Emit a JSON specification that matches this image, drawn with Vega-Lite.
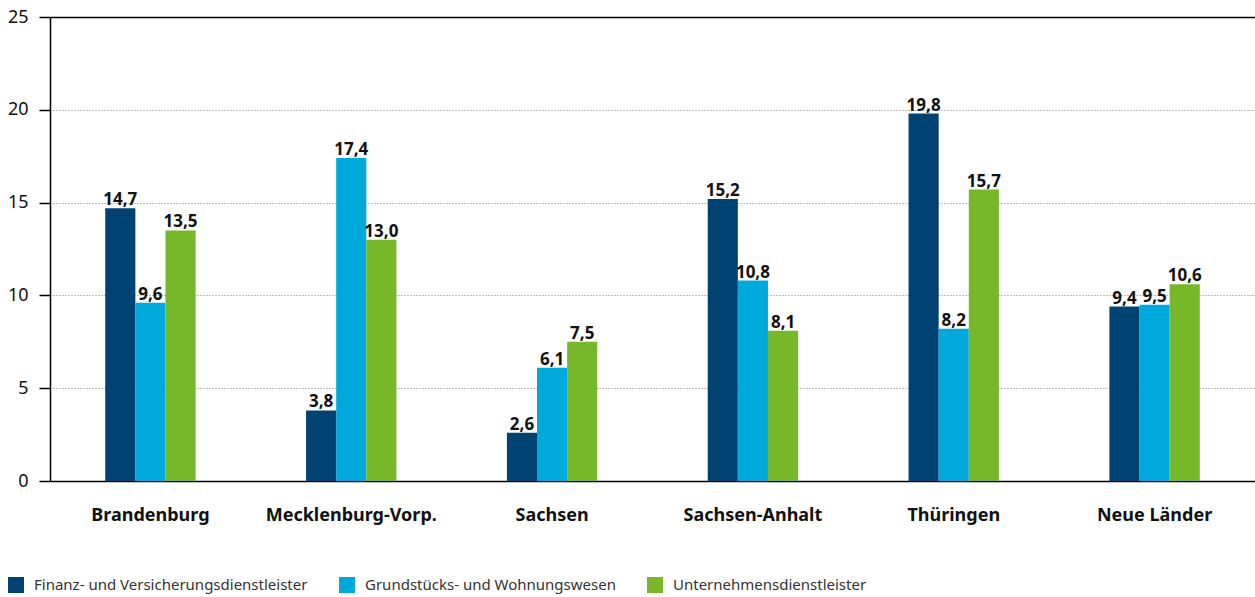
{
  "$schema": "https://vega.github.io/schema/vega-lite/v6.json",
  "width": 1205,
  "height": 464,
  "autosize": {"type": "none"},
  "padding": {"left": 50, "top": 17, "right": 0, "bottom": 116},
  "config": {
    "locale": {"number": {"decimal": ",", "thousands": ".", "grouping": [3], "currency": ["", " €"]}},
    "view": {"stroke": null},
    "font": "Noto Sans"
  },
  "data": {
    "values": [
      {"land": "Brandenburg", "sektor": "Finanz- und Versicherungsdienstleister", "wert": 14.7},
      {"land": "Brandenburg", "sektor": "Grundstücks- und Wohnungswesen", "wert": 9.6},
      {"land": "Brandenburg", "sektor": "Unternehmensdienstleister", "wert": 13.5},
      {"land": "Mecklenburg-Vorp.", "sektor": "Finanz- und Versicherungsdienstleister", "wert": 3.8},
      {"land": "Mecklenburg-Vorp.", "sektor": "Grundstücks- und Wohnungswesen", "wert": 17.4},
      {"land": "Mecklenburg-Vorp.", "sektor": "Unternehmensdienstleister", "wert": 13.0},
      {"land": "Sachsen", "sektor": "Finanz- und Versicherungsdienstleister", "wert": 2.6},
      {"land": "Sachsen", "sektor": "Grundstücks- und Wohnungswesen", "wert": 6.1},
      {"land": "Sachsen", "sektor": "Unternehmensdienstleister", "wert": 7.5},
      {"land": "Sachsen-Anhalt", "sektor": "Finanz- und Versicherungsdienstleister", "wert": 15.2},
      {"land": "Sachsen-Anhalt", "sektor": "Grundstücks- und Wohnungswesen", "wert": 10.8},
      {"land": "Sachsen-Anhalt", "sektor": "Unternehmensdienstleister", "wert": 8.1},
      {"land": "Thüringen", "sektor": "Finanz- und Versicherungsdienstleister", "wert": 19.8},
      {"land": "Thüringen", "sektor": "Grundstücks- und Wohnungswesen", "wert": 8.2},
      {"land": "Thüringen", "sektor": "Unternehmensdienstleister", "wert": 15.7},
      {"land": "Neue Länder", "sektor": "Finanz- und Versicherungsdienstleister", "wert": 9.4},
      {"land": "Neue Länder", "sektor": "Grundstücks- und Wohnungswesen", "wert": 9.5},
      {"land": "Neue Länder", "sektor": "Unternehmensdienstleister", "wert": 10.6}
    ]
  },
  "encoding": {
    "x": {
      "field": "land", "type": "nominal", "sort": null,
      "scale": {"paddingInner": 0.55, "paddingOuter": 0.275},
      "axis": {
        "title": null, "labelAngle": 0, "ticks": false,
        "domainColor": "#000000", "domainWidth": 1.5,
        "labelFontSize": 18, "labelFontWeight": "bold", "labelColor": "#111111",
        "labelPadding": 25
      }
    },
    "xOffset": {
      "field": "sektor", "type": "nominal", "sort": null,
      "scale": {"paddingInner": 0, "paddingOuter": 0}
    },
    "y": {
      "field": "wert", "type": "quantitative",
      "scale": {"domain": [0, 25], "nice": false},
      "axis": {
        "title": null, "values": [0, 5, 10, 15, 20, 25],
        "grid": true,
        "gridColor": {"condition": {"test": "datum.value === 25", "value": "#000000"}, "value": "#7a7a7a"},
        "gridDash": {"condition": {"test": "datum.value === 25", "value": []}, "value": [1, 2]},
        "gridWidth": {"condition": {"test": "datum.value === 25", "value": 1.5}, "value": 1},
        "domainColor": "#000000", "domainWidth": 1.5,
        "tickColor": "#000000", "tickSize": 11, "tickWidth": 1.5,
        "labelPadding": 11, "labelFontSize": 18, "labelColor": "#111111"
      }
    }
  },
  "layer": [
    {
      "mark": {"type": "bar"},
      "encoding": {
        "color": {
          "field": "sektor", "type": "nominal",
          "scale": {
            "domain": ["Finanz- und Versicherungsdienstleister", "Grundstücks- und Wohnungswesen", "Unternehmensdienstleister"],
            "range": ["#004373", "#00a9dc", "#76b82a"]
          },
          "legend": {
            "orient": "none", "legendX": -42, "legendY": 560,
            "direction": "horizontal", "title": null,
            "symbolType": "square", "symbolSize": 256, "symbolStrokeWidth": 0,
            "labelFontSize": 15, "labelColor": "#333333", "labelOffset": 10,
            "columnPadding": 31, "labelLimit": 400
          }
        }
      }
    },
    {
      "mark": {"type": "text", "baseline": "alphabetic", "dy": -3, "fontSize": 17, "fontWeight": "bold", "color": "#111111"},
      "encoding": {
        "text": {"field": "wert", "type": "quantitative", "format": ".1f"}
      }
    }
  ]
}
